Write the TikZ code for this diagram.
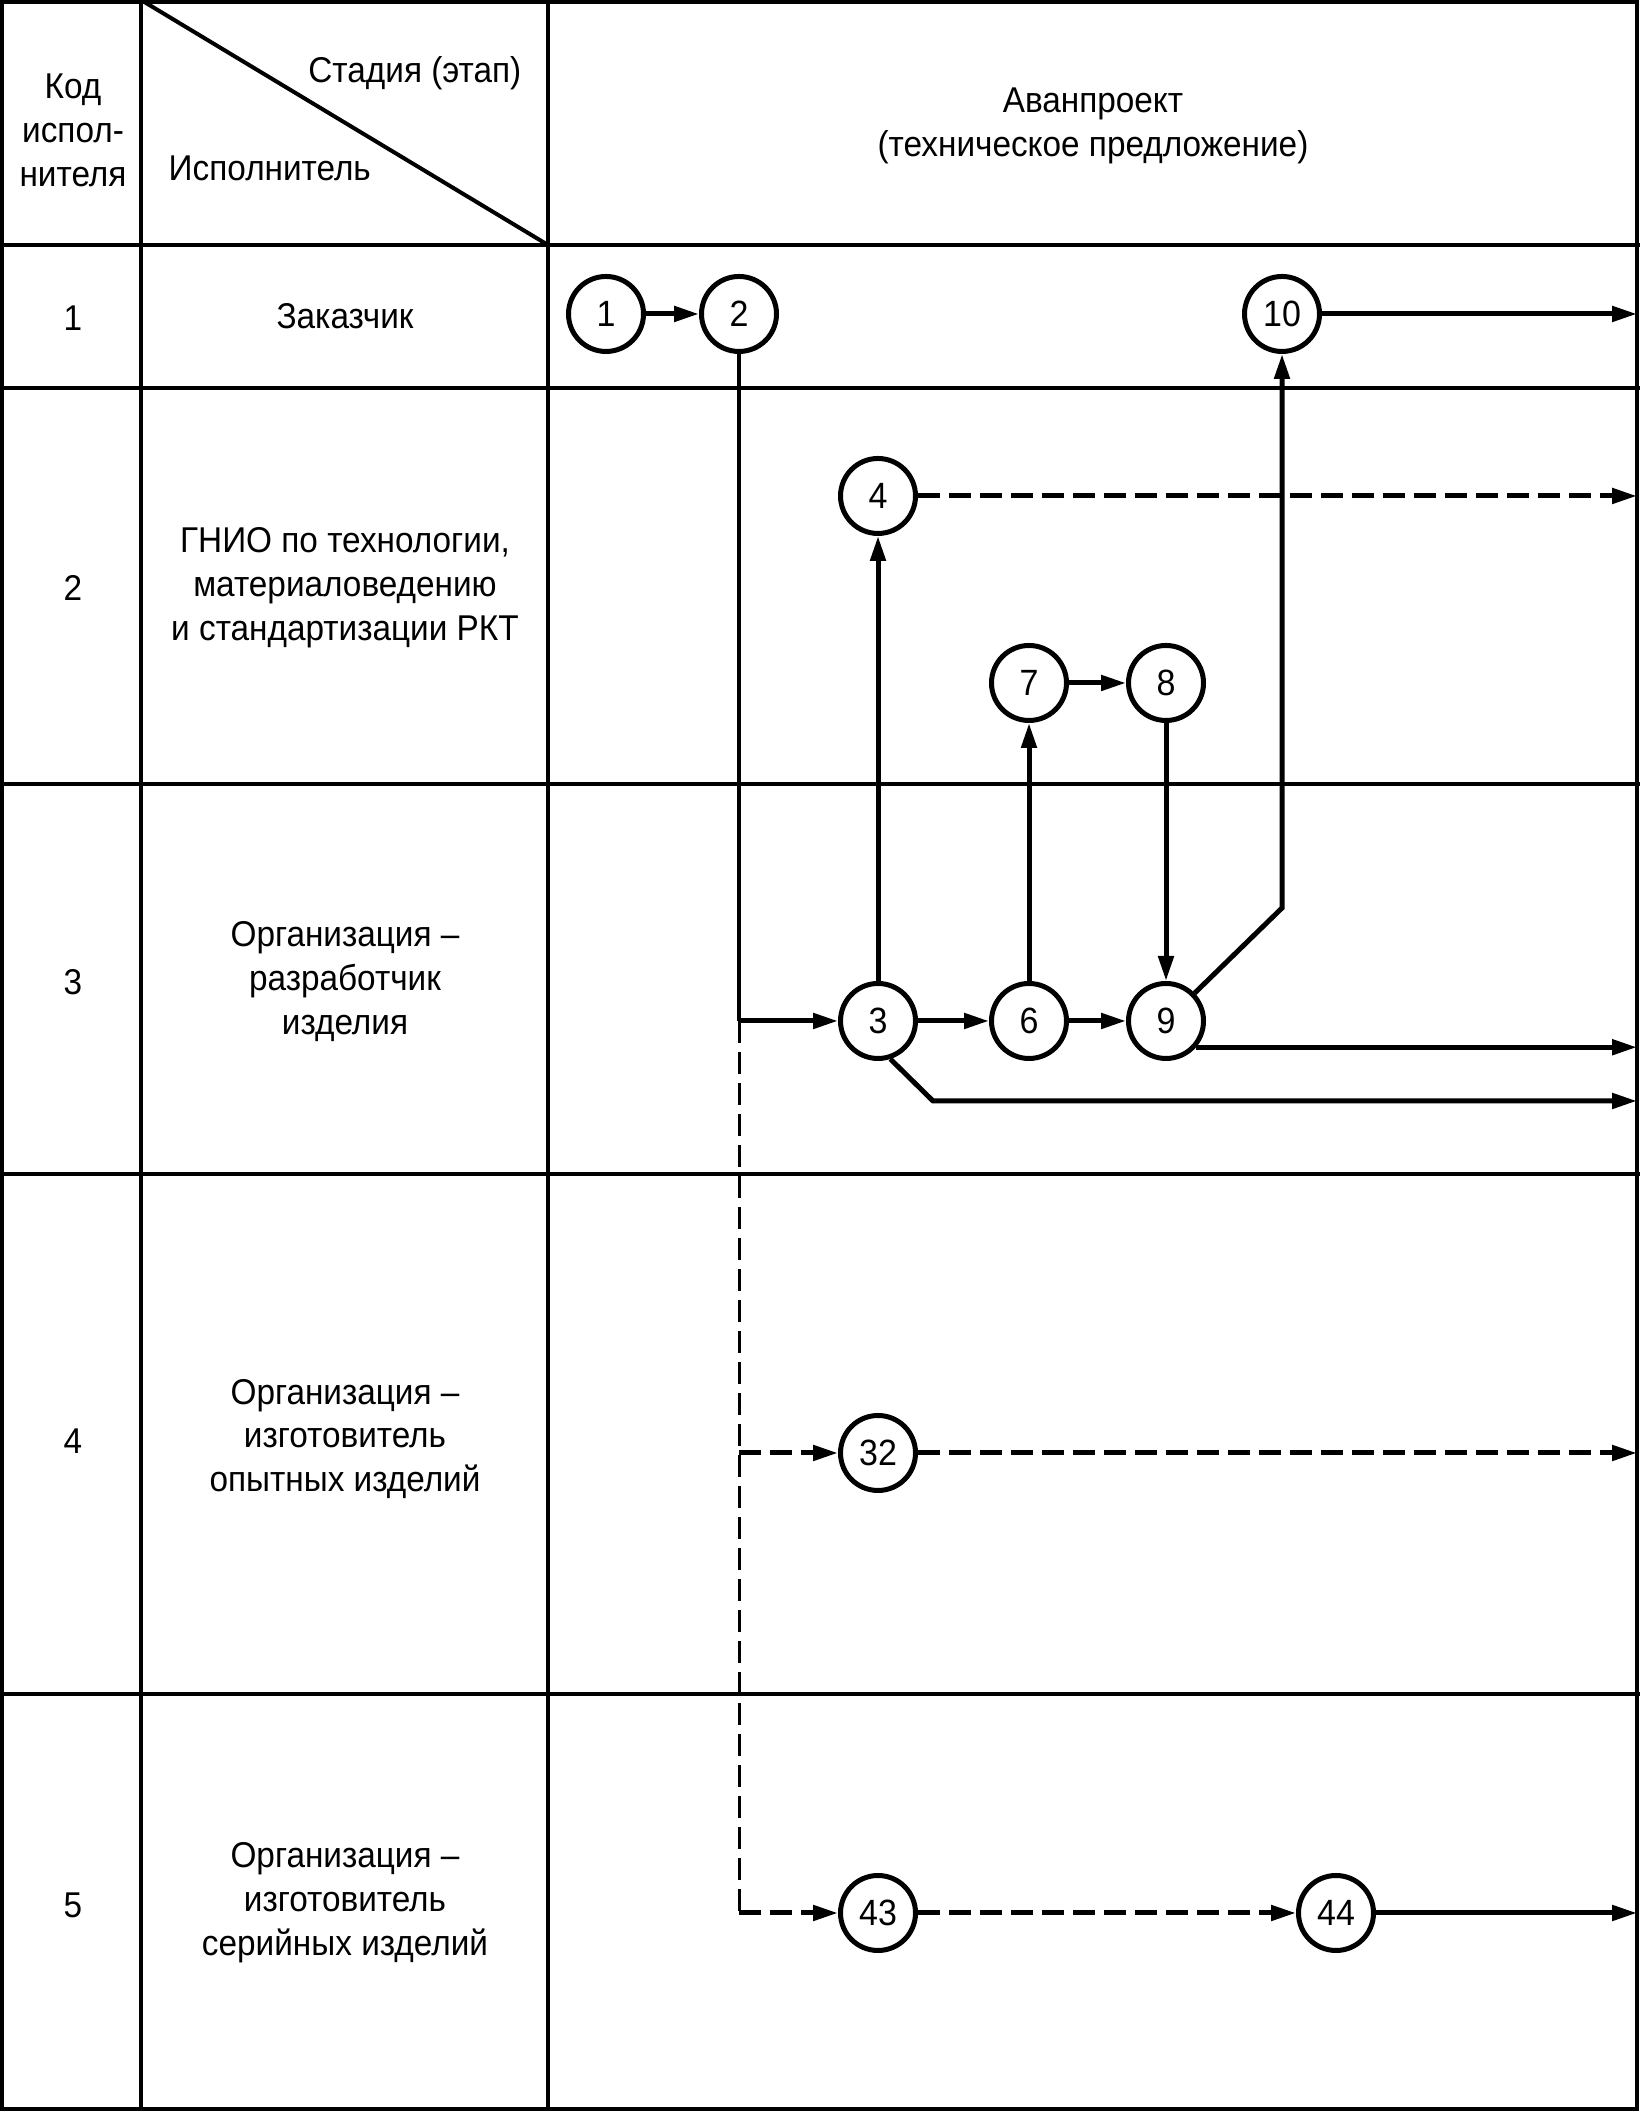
\documentclass[tikz,border=0pt]{standalone}
\usepackage{fontspec}
\setmainfont{Liberation Sans}[FakeStretch=0.93]
\usetikzlibrary{arrows.meta}

\tikzset{
	tablerule/.style={line width=0.4mm},
	ev/.style={circle, draw, line width=0.5mm, minimum size=7.5mm, inner sep=0pt, font=\fontsize{10.4}{12}\selectfont},
	flow/.style={line width=0.5mm},
	dashflow/.style={line width=0.5mm, dash pattern=on 2.2mm off 0.9mm},
	lbl/.style={align=center, font=\fontsize{10.2}{12.5}\selectfont}
}

\begin{document}
\begin{tikzpicture}[>={Triangle[length=2.5mm,width=1.5mm]}]

	\useasboundingbox (0,0) rectangle (16.4,21.11);

	% table
	\draw[tablerule] (0.02,0.02) rectangle (16.37,21.09);
	\draw[tablerule] (1.41,0) -- (1.41,21.11);
	\draw[tablerule] (5.48,0) -- (5.48,21.11);
	\draw[tablerule] (1.41,21.11) -- (5.48,18.66);
	\foreach \y in {18.66,17.23,13.27,9.37,4.17}
		\draw[tablerule] (0,\y) -- (16.4,\y);

	% head
	\node[lbl] (code) at (0.73,19.81) {Код\\испол-\\нителя};
	\node[lbl, anchor=east, inner sep=0pt] (stage) at (5.22,20.38) {Стадия (этап)};
	\node[lbl, anchor=west, inner sep=0pt] (exec) at (1.68,19.43) {Исполнитель};
	\node[lbl] (avan) at (10.93,19.85) {Аванпроект\\(техническое предложение)};

	% executors
	\node[lbl] (c1) at (0.73,17.93) {1};
	\node[lbl] (n1) at (3.45,17.95) {Заказчик};
	\node[lbl] (c2) at (0.73,15.23) {2};
	\node[lbl] (n2) at (3.45,15.23) {ГНИО по технологии,\\материаловедению\\и стандартизации РКТ};
	\node[lbl] (c3) at (0.73,11.29) {3};
	\node[lbl] (n3) at (3.45,11.29) {Организация --\\разработчик\\изделия};
	\node[lbl] (c4) at (0.73,6.70) {4};
	\node[lbl] (n4) at (3.45,6.72) {Организация --\\изготовитель\\опытных изделий};
	\node[lbl] (c5) at (0.73,2.06) {5};
	\node[lbl] (n5) at (3.45,2.08) {Организация --\\изготовитель\\серийных изделий};

	% events
	\node[ev] (e1) at (6.06,17.97) {1};
	\node[ev] (e2) at (7.39,17.97) {2};
	\node[ev] (e10) at (12.82,17.97) {10};
	\node[ev] (e4) at (8.78,16.15) {4};
	\node[ev] (e7) at (10.29,14.28) {7};
	\node[ev] (e8) at (11.66,14.28) {8};
	\node[ev] (e3) at (8.78,10.90) {3};
	\node[ev] (e6) at (10.29,10.90) {6};
	\node[ev] (e9) at (11.66,10.90) {9};
	\node[ev] (e32) at (8.78,6.58) {32};
	\node[ev] (e43) at (8.78,1.98) {43};
	\node[ev] (e44) at (13.36,1.98) {44};

	\coordinate (j3) at (7.39,10.90);
	\coordinate (j32) at (7.39,6.58);
	\coordinate (j43) at (7.39,1.98);
	\coordinate (k3) at (9.33,10.10);
	\coordinate (k9) at (12.82,12.03);
	\coordinate (o10) at (16.37,17.97);
	\coordinate (o4) at (16.37,16.15);
	\coordinate (o9) at (16.37,10.65);
	\coordinate (o3) at (16.37,10.10);
	\coordinate (o32) at (16.37,6.58);
	\coordinate (o44) at (16.37,1.98);

	% links
	\draw[flow,->] (e1) -- (e2);
	\draw[line width=0.4mm] (e2) -- (j3);
	\draw[flow,->] (j3) -- (e3);
	\draw[flow,->] (e3) -- (e4);
	\draw[dashflow,->] (e4) -- (o4);
	\draw[flow,->] (e3) -- (e6);
	\draw[flow,->] (e6) -- (e7);
	\draw[flow,->] (e7) -- (e8);
	\draw[flow,->] (e8) -- (e9);
	\draw[flow,->] (e6) -- (e9);
	\draw[flow,->] (e9) -- (k9) -- (e10);
	\draw[flow,->] (e10) -- (o10);
	\draw[flow,->] (e9.-41) -- (e9.-41 -| o9);
	\draw[flow,->] (e3.-72) -- (k3) -- (o3);

	\draw[line width=0.3mm, dash pattern=on 2.2mm off 0.9mm] (j3) -- (j43);
	\draw[dashflow,->] (j32) -- (e32);
	\draw[dashflow,->] (e32) -- (o32);
	\draw[dashflow,->] (j43) -- (e43);
	\draw[dashflow,->] (e43) -- (e44);
	\draw[flow,->] (e44) -- (o44);

\end{tikzpicture}
\end{document}
